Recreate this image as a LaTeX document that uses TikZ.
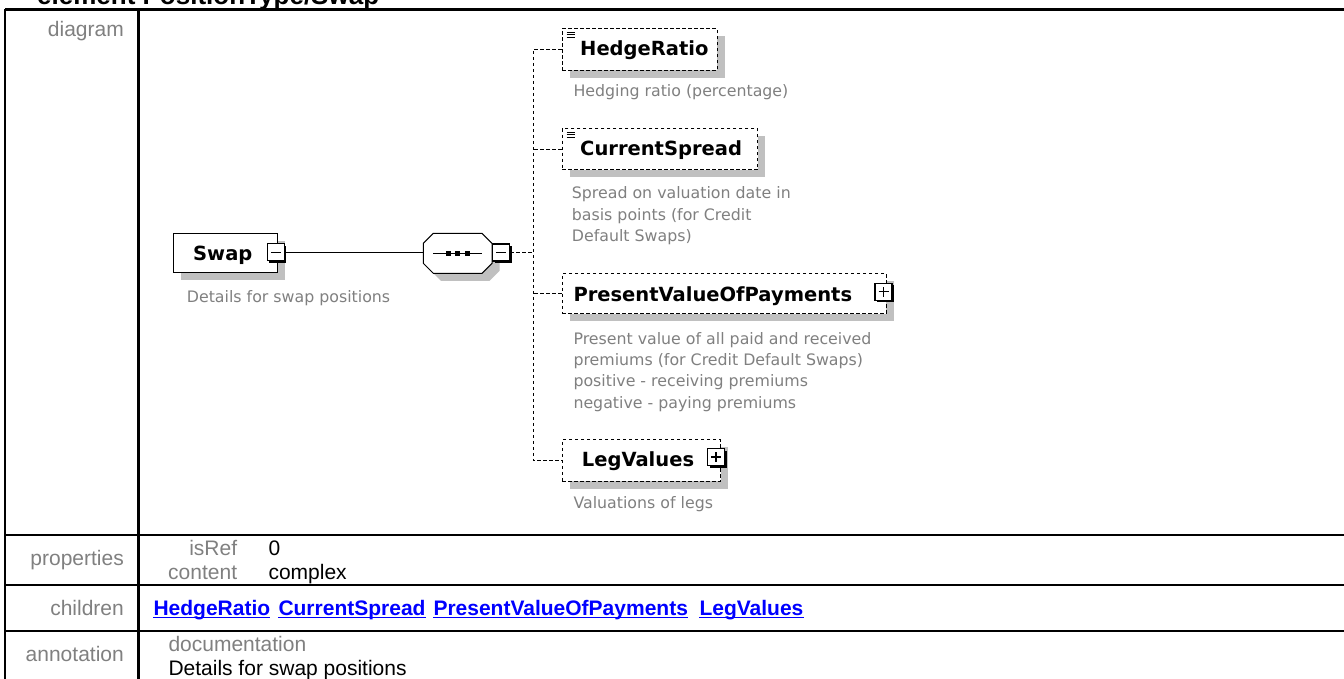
\documentclass[tikz,border=0pt]{standalone}
\usepackage{fontspec}
\setmainfont{Liberation Sans}
\newfontfamily\djv{DejaVu Sans}
\usetikzlibrary{shadows,calc}
\definecolor{lblgray}{RGB}{128,128,128}
\definecolor{shgray}{RGB}{192,192,192}
\definecolor{linkblue}{RGB}{0,0,255}
\tikzset{
 tline/.style={line width=2.5pt},
 rowlbl/.style={font=\fontsize{21}{25}\selectfont, text=lblgray, anchor=base east, inner sep=0pt},
 tabtxt/.style={font=\fontsize{21}{25}\selectfont, anchor=base west, inner sep=0pt},
 linktxt/.style={font=\fontsize{21}{25}\selectfont\bfseries, text=linkblue, anchor=base west, inner sep=0pt},
 ulink/.style={linkblue, line width=1.6pt},
 elemtxt/.style={font=\djv\bfseries\fontsize{19.5}{23}\selectfont, anchor=base west, inner sep=0pt},
 desctxt/.style={font=\djv\fontsize{15.8}{21.4}\selectfont, text=lblgray, anchor=base west, inner sep=0pt, align=left},
 sh/.style={drop shadow={shadow xshift=7.5pt, shadow yshift=-7.5pt, fill=shgray, opacity=1}},
 solidbox/.style={draw, line width=1pt, fill=white, sh, anchor=north west, inner sep=0pt},
 optbox/.style={draw, line width=1pt, dash pattern=on 3.5pt off 2.5pt, fill=white, sh, anchor=north west, inner sep=0pt},
 expbox/.style={draw, line width=1.2pt, fill=white, minimum size=17pt, inner sep=0pt, drop shadow={shadow xshift=2pt, shadow yshift=-2pt, fill=black, opacity=1}},
 conn/.style={line width=1pt},
 dconn/.style={line width=1pt, dash pattern=on 3.5pt off 2.5pt},
 sign/.style={line width=1.3pt},
}
\begin{document}
\begin{tikzpicture}[x=1pt,y=-1pt]
\useasboundingbox (0,0) rectangle (1344,679);
\fill[white] (0,0) rectangle (1344,679);

% title (cut off at the top)
\node[font=\fontsize{26}{30}\selectfont\bfseries, anchor=base west, inner sep=0pt] (title) at (37,4.5) {element PositionType/Swap};

% table frame
\draw[tline] (5,9.5) -- (1344,9.5);
\draw[tline] (5,535) -- (1344,535);
\draw[tline] (5,585) -- (1344,585);
\draw[tline] (5,631) -- (1344,631);
\draw[tline] (5,9.5) -- (5,679);
\draw[tline] (138.3,9.5) -- (138.3,679);

% row labels
\node[rowlbl] (ldiag) at (124,37) {diagram};
\node[rowlbl] (lprop) at (124,565) {properties};
\node[rowlbl] (lchild) at (124,615) {children};
\node[rowlbl] (lann) at (124,661.7) {annotation};

% properties
\node[rowlbl] (kisref) at (237.3,555.7) {isRef};
\node[rowlbl] (kcontent) at (237.3,579) {content};
\node[tabtxt] (visref) at (268.3,555.7) {0};
\node[tabtxt] (vcontent) at (268.3,579) {complex};

% children links
\node[linktxt] (c1) at (153.3,615) {HedgeRatio};
\node[linktxt] (c2) at (278.3,615) {CurrentSpread};
\node[linktxt] (c3) at (433.3,615) {PresentValueOfPayments};
\node[linktxt] (c4) at (699.3,615) {LegValues};
\foreach \c in {c1,c2,c3,c4}{
  \draw[ulink] ([yshift=-2.5pt]\c.base west) -- ([yshift=-2.5pt]\c.base east);
}

% annotation
\node[tabtxt, text=lblgray] (adoc) at (168.3,651.7) {documentation};
\node[tabtxt] (atext) at (168.3,675) {Details for swap positions};

% ===== diagram =====
% Swap element
\node[solidbox, minimum width=103.4pt, minimum height=39pt] (swap) at (173.3,233.3) {};
\node[elemtxt] (swaplbl) at (193,260) {Swap};
\node[desctxt] (swapdesc) at (186.7,302.7) {Details for swap positions};
\node[expbox] (swapm) at (275.8,252.2) {};
\draw[sign] ([xshift=-5pt]swapm.center) -- ([xshift=5pt]swapm.center);

% sequence compositor
\node[anchor=north west, minimum width=68.7pt, minimum height=40pt, inner sep=0pt] (seq) at (423.3,233.3) {};
\fill[shgray, shift={(7.5,7.5)}] (433.3,233.3) -- (482,233.3) -- (492,243.3) -- (492,263.3) -- (482,273.3) -- (433.3,273.3) -- (423.3,263.3) -- (423.3,243.3) -- cycle;
\draw[line width=1pt, fill=white] (433.3,233.3) -- (482,233.3) -- (492,243.3) -- (492,263.3) -- (482,273.3) -- (433.3,273.3) -- (423.3,263.3) -- (423.3,243.3) -- cycle;
\draw[line width=1pt] (433.3,253.3) -- (482,253.3);
\fill (445.5,250.8) rectangle +(5,5);
\fill (455,250.8) rectangle +(5,5);
\fill (464.5,250.8) rectangle +(5,5);
\node[expbox] (seqm) at (501,252.5) {};
\draw[sign] ([xshift=-5pt]seqm.center) -- ([xshift=5pt]seqm.center);

\draw[conn] (swapm.east) -- (swapm.east -| seq.west);

% children elements
\node[optbox, minimum width=155pt, minimum height=41.7pt] (hr) at (561.7,28.3) {};
\node[optbox, minimum width=195.6pt, minimum height=41pt] (cs) at (561.7,128.3) {};
\node[optbox, minimum width=324pt, minimum height=40pt] (pv) at (561.7,273.3) {};
\node[optbox, minimum width=158.3pt, minimum height=41.4pt] (lv) at (561.7,439.3) {};

% simple-content icons
\foreach \b in {hr,cs}{
  \fill[white] ([xshift=4pt,yshift=-2pt]\b.north west) rectangle ([xshift=14pt,yshift=-11pt]\b.north west);
  \foreach \dy in {4,6.7,9.4}{
    \draw[line width=1pt] ([xshift=5pt,yshift=-\dy pt]\b.north west) -- ([xshift=13pt,yshift=-\dy pt]\b.north west);
  }
}

\node[elemtxt] (hrlbl) at (580,55.5) {HedgeRatio};
\node[elemtxt] (cslbl) at (580,155.5) {CurrentSpread};
\node[elemtxt] (pvlbl) at (573.3,301) {PresentValueOfPayments};
\node[elemtxt] (lvlbl) at (581.7,466) {LegValues};

\node[expbox] (pvm) at (883.5,291.8) {};
\draw[sign] ([xshift=-5pt]pvm.center) -- ([xshift=5pt]pvm.center);
\draw[sign] ([yshift=-5pt]pvm.center) -- ([yshift=5pt]pvm.center);
\node[expbox] (lvm) at (716,457) {};
\draw[sign] ([xshift=-5pt]lvm.center) -- ([xshift=5pt]lvm.center);
\draw[sign] ([yshift=-5pt]lvm.center) -- ([yshift=5pt]lvm.center);

% descriptions (multi-line nodes are anchored at their last line)
\node[desctxt] (hrdesc) at (573.3,96.7) {Hedging ratio (percentage)};
\node[desctxt] (csdesc) at (571.7,241.7) {Spread on valuation date in\\basis points (for Credit\\Default Swaps)};
\node[desctxt] (pvdesc) at (573.3,408.3) {Present value of all paid and received\\premiums (for Credit Default Swaps)\\positive - receiving premiums\\negative - paying premiums};
\node[desctxt] (lvdesc) at (573.3,508.3) {Valuations of legs};

% dashed connectors to children
\coordinate (bus) at (533,253);
\draw[dconn] (seqm.east) -- (seqm.east -| bus);
\draw[dconn] (hr.west) -- (hr.west -| bus) -- (lv.west -| bus) -- (lv.west);
\draw[dconn] (cs.west) -- (cs.west -| bus);
\draw[dconn] (pv.west) -- (pv.west -| bus);
\end{tikzpicture}
\end{document}
